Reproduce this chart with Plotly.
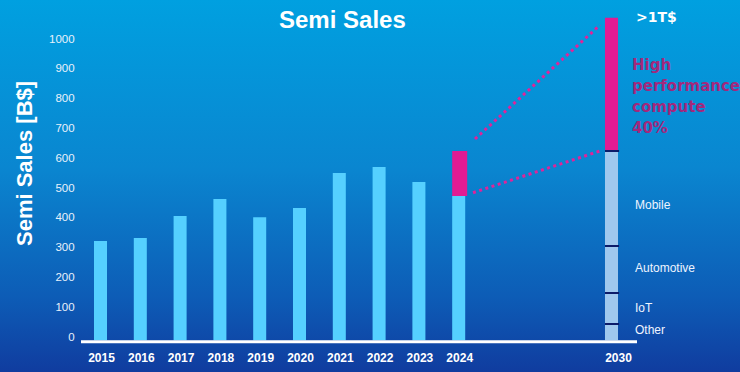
import base64
import numpy as np
import plotly.graph_objects as go

# ---------------- data ----------------
years = ["2015", "2016", "2017", "2018", "2019", "2020", "2021", "2022", "2023", "2024"]
sales = [334, 344, 418, 475, 414, 445, 562, 582, 532, 485]
hpc_2024 = 151
year_2030 = "2030"
seg_names = ["Other", "IoT", "Automotive", "Mobile", "High performance compute"]
seg_2030 = [55, 104, 158, 319, 447]
y_ticks = list(range(0, 1001, 100))

# ---------------- helpers (pixel -> paper) ----------------
W, H = 740, 372


def px(xp):
    return xp / W


def py(yp):
    return 1 - yp / H


CYAN = "#55d0ff"
MAGENTA = "#e21b93"
LIGHT = "#9fc8ee"
NAVY = "#0c1c6a"

seg_colors = [LIGHT, LIGHT, LIGHT, LIGHT, MAGENTA]
tops = np.cumsum(seg_2030)
bases = tops - np.array(seg_2030)

fig = go.Figure()
fig.add_trace(go.Bar(x=years, y=sales, marker=dict(color=CYAN, line=dict(width=0)),
                     width=0.327, xaxis="x", yaxis="y"))
fig.add_trace(go.Bar(x=[years[-1]], y=[hpc_2024], base=[sales[-1]],
                     marker=dict(color=MAGENTA, line=dict(width=0)),
                     width=0.377, offset=-0.1635, xaxis="x", yaxis="y"))
fig.add_trace(go.Bar(x=[year_2030] * len(seg_2030), y=seg_2030, base=bases.tolist(),
                     marker=dict(color=seg_colors, line=dict(width=0)),
                     width=0.327, xaxis="x2", yaxis="y", name="2030"))

shapes = []
# separators on the 2030 stack
for t in tops[:-1]:
    shapes.append(dict(type="line", xref="x2", yref="y", x0=-0.1635, x1=0.19,
                       y0=float(t), y1=float(t), line=dict(color=NAVY, width=2)))
# white base line
shapes.append(dict(type="line", xref="paper", yref="paper", x0=px(81), x1=px(637),
                   y0=py(341.8), y1=py(341.8), line=dict(color="white", width=3)))
# dotted connectors
dot = dict(color="#e0239a", width=3, dash="3px,3.5px")
shapes.append(dict(type="line", xref="paper", yref="paper", x0=px(473), y0=py(192.7),
                   x1=px(600), y1=py(151), line=dot))
shapes.append(dict(type="line", xref="paper", yref="paper", x0=px(475), y0=py(139),
                   x1=px(600), y1=py(25), line=dot))

ann = []
ann.append(dict(text="<b>Semi Sales</b>", x=px(342), y=py(19.5), xref="paper", yref="paper",
                xanchor="center", yanchor="middle", showarrow=False,
                font=dict(family="Liberation Sans, Arial", size=24, color="white")))
ann.append(dict(text="<b>Semi Sales [B$]</b>", x=px(24), y=py(164), xref="paper", yref="paper",
                xanchor="center", yanchor="middle", textangle=-90, showarrow=False,
                font=dict(family="Liberation Sans, Arial", size=22, color="white")))
ann.append(dict(text="<b>>1T$</b>", x=px(634), y=py(17), xref="paper", yref="paper",
                xanchor="left", yanchor="middle", showarrow=False,
                font=dict(family="DejaVu Sans", size=14, color="white")))
hpc_lines = ["High", "performance", "compute", "40%"]
hpc_y = [65.4, 86.2, 107, 127.8]
for t, yy in zip(hpc_lines, hpc_y):
    ann.append(dict(text="<b>%s</b>" % t, x=px(630), y=py(yy), xref="paper", yref="paper",
                    xanchor="left", yanchor="middle", showarrow=False,
                    font=dict(family="DejaVu Sans", size=15, color="#a3287c")))
seg_label_y = {"Mobile": 205, "Automotive": 268, "IoT": 308, "Other": 330}
for name in seg_names[:4][::-1]:
    ann.append(dict(text=name, x=px(633), y=py(seg_label_y[name]), xref="paper", yref="paper",
                    xanchor="left", yanchor="middle", showarrow=False,
                    font=dict(family="Liberation Sans, Arial", size=12, color="#eef4ff")))

# background gradient
svg = ('<svg xmlns="http://www.w3.org/2000/svg" width="740" height="372" preserveAspectRatio="none">'
       '<defs><linearGradient id="g" x1="0" y1="0" x2="0" y2="1">'
       '<stop offset="0" stop-color="#00a0e0"/>'
       '<stop offset="0.45" stop-color="#0a86d0"/>'
       '<stop offset="0.8" stop-color="#0d5cb6"/>'
       '<stop offset="1" stop-color="#103c9f"/>'
       '</linearGradient></defs><rect width="740" height="372" fill="url(#g)"/></svg>')
src = "data:image/svg+xml;base64," + base64.b64encode(svg.encode()).decode()

fig.update_layout(
    width=W, height=H,
    margin=dict(l=0, r=0, t=0, b=0, autoexpand=False),
    paper_bgcolor="#0d4aa8", plot_bgcolor="rgba(0,0,0,0)",
    barmode="overlay", showlegend=False,
    images=[dict(source=src, xref="paper", yref="paper", x=0, y=1, sizex=1, sizey=1,
                 sizing="stretch", xanchor="left", yanchor="top", layer="below")],
    xaxis=dict(type="category", domain=[px(80.6), px(478.6)], range=[-0.5, 9.5],
               showgrid=False, zeroline=False, showline=False, ticks="", automargin=False,
               tickfont=dict(family="Liberation Sans, Arial", size=12, color="white", weight="bold"),
               ticklabelstandoff=8, ticklabelshift=1, anchor="y"),
    xaxis2=dict(type="category", domain=[px(591.6), px(631.4)], range=[-0.5, 0.5],
                showgrid=False, zeroline=False, showline=False, ticks="", automargin=False,
                tickfont=dict(family="Liberation Sans, Arial", size=12, color="white", weight="bold"),
                ticklabelstandoff=8, ticklabelshift=7, anchor="y"),
    yaxis=dict(domain=[py(340.5), py(12.7)], range=[0, 1100], tickvals=y_ticks,
               showgrid=False, zeroline=False, showline=False, ticks="", automargin=False,
               tickfont=dict(family="Liberation Sans, Arial", size=11.5, color="#e8f1fb"),
               ticklabelstandoff=5, ticklabelshift=-4, anchor="x"),
    shapes=shapes, annotations=ann,
)

fig.write_html("out.html", config={"displayModeBar": False},
               post_script="document.body.style.margin='0';document.body.style.overflow='hidden';")
